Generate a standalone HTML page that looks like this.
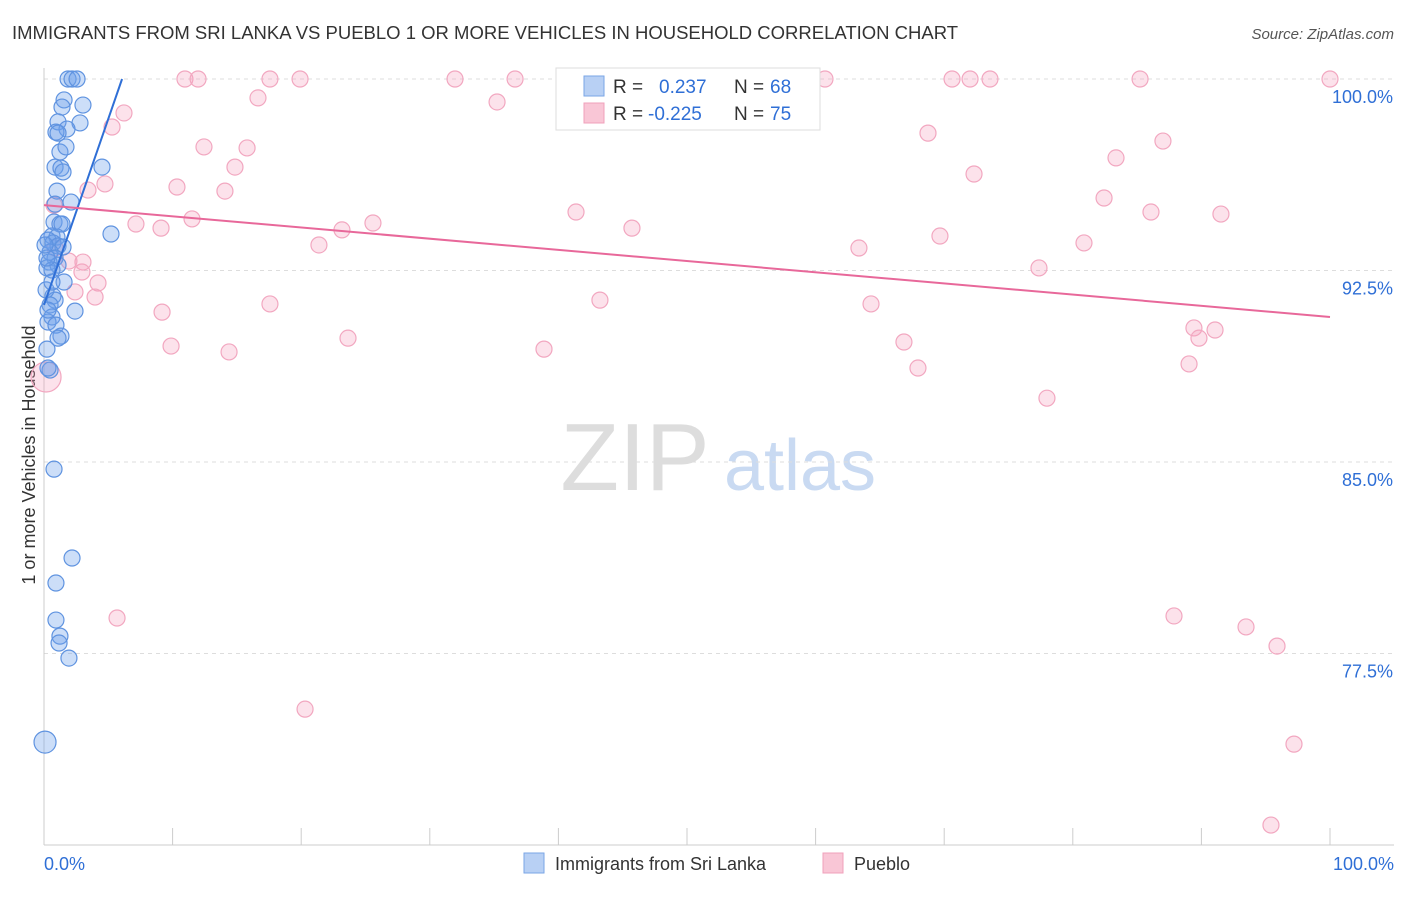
<!DOCTYPE html>
<html><head><meta charset="utf-8"><style>
body{margin:0;background:#fff;font-family:"Liberation Sans",sans-serif;}
svg text{font-family:"Liberation Sans",sans-serif;}
</style></head><body>
<svg id="chart" width="1406" height="892" xmlns="http://www.w3.org/2000/svg">
<text x="12" y="39" font-size="18.5" fill="#333">IMMIGRANTS FROM SRI LANKA VS PUEBLO 1 OR MORE VEHICLES IN HOUSEHOLD CORRELATION CHART</text>
<text x="1394" y="39" font-size="15" fill="#555" text-anchor="end" font-style="italic">Source: ZipAtlas.com</text>
<text x="35" y="455" font-size="18" fill="#333" text-anchor="middle" transform="rotate(-90 35 455)">1 or more Vehicles in Household</text>
<g>
<text x="635" y="490" font-size="96" fill="#ddd" text-anchor="middle" font-family="Liberation Serif">ZIP</text>
<text x="800" y="490" font-size="72" fill="#c9daf2" text-anchor="middle">atlas</text>
</g>
<g id="grid"></g><g id="axes"></g><g id="pts"></g><g id="trends"></g>
<g>
<rect x="556" y="68" width="264" height="62" fill="#fff" stroke="#ddd"/>
<rect x="584" y="76" width="20" height="20" fill="#b8d0f4" stroke="#7aa6e6"/>
<text x="613" y="93" font-size="19" fill="#333">R =</text>
<text x="659" y="93" font-size="19" fill="#2f6fd6">0.237</text>
<text x="734" y="93" font-size="19" fill="#333">N =</text>
<text x="770" y="93" font-size="19" fill="#2f6fd6">68</text>
<rect x="584" y="103" width="20" height="20" fill="#f9c6d6" stroke="#f0a0bb"/>
<text x="613" y="120" font-size="19" fill="#333">R =</text>
<text x="648" y="120" font-size="19" fill="#2f6fd6">-0.225</text>
<text x="734" y="120" font-size="19" fill="#333">N =</text>
<text x="770" y="120" font-size="19" fill="#2f6fd6">75</text>
</g>
<g>
<rect x="524" y="853" width="20" height="20" fill="#b8d0f4" stroke="#7aa6e6"/>
<text x="555" y="870" font-size="18" fill="#333">Immigrants from Sri Lanka</text>
<rect x="823" y="853" width="20" height="20" fill="#f9c6d6" stroke="#f0a0bb"/>
<text x="854" y="870" font-size="18" fill="#333">Pueblo</text>
</g>
</svg>
<script>
const yTicks=[100,92.5,85,77.5];
const yTickLabels=["100.0%","92.5%","85.0%","77.5%"];
const xTickLabels=["0.0%","100.0%"];
const blueX=[1.87,2.18,2.57,1.56,3.03,1.40,2.80,1.09,1.79,0.93,1.09,1.24,1.71,0.86,1.32,1.48,4.51,1.01,0.86,2.10,0.78,1.24,1.40,0.62,1.01,0.31,0.70,1.09,1.48,5.21,0.47,0.86,0.39,1.09,0.23,0.62,1.56,0.70,0.86,0.47,2.41,0.62,0.31,0.93,1.32,1.09,0.23,0.47,0.08,0.78,2.18,0.93,0.93,1.24,1.17,1.94,0.31,0.23,0.08,0.16,0.62,0.31];
const blueY=[100,100,100,99.18,98.98,98.90,98.28,98.32,98.04,97.92,97.88,97.14,97.34,96.55,96.51,96.36,96.55,95.61,95.10,95.18,94.40,94.32,94.32,93.85,93.81,93.69,93.58,93.46,93.42,93.93,93.22,92.99,92.83,92.71,92.60,92.52,92.05,91.50,91.34,91.15,90.91,90.68,90.48,90.36,89.93,89.85,89.42,88.60,74.03,84.72,81.24,80.26,78.81,78.18,77.91,77.32,88.68,92.99,93.50,91.74,92.05,90.95];
const blueR=[8,8,8,8,8,8,8,8,8,8,8,8,8,8,8,8,8,8,8,8,8,8,8,8,8,8,8,8,8,8,8,8,8,8,8,8,8,8,8,8,8,8,8,8,8,8,8,8,11,8,8,8,8,8,8,8,8,8,8,8,8,8];
const pinkX=[10.96,11.98,17.57,19.91,31.96,36.63,46.97,59.56,60.73,70.61,72.01,73.56,85.23,100,16.64,35.23,6.22,5.29,68.74,87.01,12.44,15.79,83.36,14.85,72.32,10.34,14.07,4.74,3.42,82.43,41.37,86.08,91.52,7.15,9.10,11.51,25.58,23.17,45.72,69.67,21.38,80.87,63.37,3.03,1.94,77.37,2.95,4.20,2.41,3.97,17.57,43.23,64.31,9.18,89.42,91.06,89.81,23.64,9.88,14.39,38.88,66.87,89.04,67.96,77.99,5.68,87.87,93.47,95.88,20.30,97.20,95.41,0.16,0.78,0.86];
const pinkY=[100,100,100,100,100,100,100,100,100,100,100,100,100,100,99.26,99.10,98.67,98.12,97.88,97.57,97.34,97.30,96.91,96.55,96.28,95.77,95.61,95.89,95.65,95.34,94.79,94.79,94.71,94.32,94.16,94.52,94.36,94.09,94.16,93.85,93.50,93.58,93.38,92.83,92.87,92.60,92.44,92.01,91.66,91.46,91.19,91.34,91.19,90.87,90.25,90.17,89.85,89.85,89.54,89.31,89.42,89.70,88.84,88.68,87.50,78.89,78.97,78.54,77.79,75.32,73.95,70.78,88.33,95.06,93.38];
const pinkR=[8,8,8,8,8,8,8,8,8,8,8,8,8,8,8,8,8,8,8,8,8,8,8,8,8,8,8,8,8,8,8,8,8,8,8,8,8,8,8,8,8,8,8,8,8,8,8,8,8,8,8,8,8,8,8,8,8,8,8,8,8,8,8,8,8,8,8,8,8,8,8,8,15,8,8];
const blueTrend=[0,91.15,6.07,100];
const pinkTrend=[0,95.06,100,90.68];
const NS="http://www.w3.org/2000/svg";
const X=v=>44+v*12.86, Y=v=>79+(100-v)*25.533;
function mk(tag,parent,attrs){const e=document.createElementNS(NS,tag);for(const k in attrs)e.setAttribute(k,attrs[k]);document.getElementById(parent).appendChild(e);return e;}
yTicks.forEach((t,i)=>{
 const l=mk('line','grid',{x1:44,x2:1394,y1:Y(t),y2:Y(t),stroke:'#ddd','stroke-dasharray':'4 4'});
 
 
 const tx=mk('text','grid',{x:1393,y:Y(t)+24,'font-size':18,fill:'#2f6fd6','text-anchor':'end'});
 tx.textContent=yTickLabels[i];
 
 
});
const ax=mk('line','axes',{x1:44,x2:1394,y1:845,y2:845,stroke:'#ccc'});


const ay=mk('line','axes',{x1:44,x2:44,y1:68,y2:845,stroke:'#ccc'});


for(let i=0;i<=10;i++){const t=mk('line','axes',{x1:X(i*10),x2:X(i*10),y1:828,y2:845,stroke:'#ccc'});
 
 }
const xl0=mk('text','axes',{x:44,y:870,'font-size':18,fill:'#2f6fd6'});xl0.textContent=xTickLabels[0];


const xl1=mk('text','axes',{x:1394,y:870,'font-size':18,fill:'#2f6fd6','text-anchor':'end'});xl1.textContent=xTickLabels[1];


pinkX.forEach((v,i)=>{const c=mk('circle','pts',{cx:X(v),cy:Y(pinkY[i]),r:pinkR[i],fill:'rgba(245,160,190,0.3)',stroke:'#f2a7c0','stroke-width':1.2});
 
 });
blueX.forEach((v,i)=>{const c=mk('circle','pts',{cx:X(v),cy:Y(blueY[i]),r:blueR[i],fill:'rgba(110,160,235,0.35)',stroke:'#5f93e0','stroke-width':1.2});
 
 });
const bt=mk('line','trends',{x1:X(blueTrend[0]),y1:Y(blueTrend[1]),x2:X(blueTrend[2]),y2:Y(blueTrend[3]),stroke:'#2f6fd6','stroke-width':2});


const pt=mk('line','trends',{x1:X(pinkTrend[0]),y1:Y(pinkTrend[1]),x2:X(pinkTrend[2]),y2:Y(pinkTrend[3]),stroke:'#e8689a','stroke-width':2});


</script>
</body></html>
